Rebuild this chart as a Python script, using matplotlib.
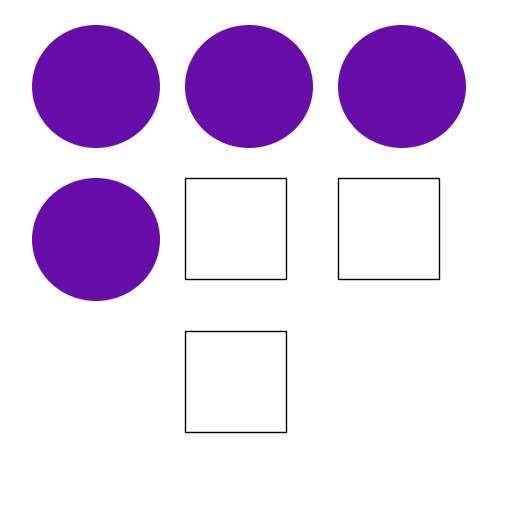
import matplotlib
matplotlib.use("Agg")
import matplotlib.pyplot as plt
from matplotlib.patches import Ellipse, Rectangle

# grid layout of the icon chart: row, column, kind
rows = [0, 0, 0, 1, 1, 1, 2]
cols = [0, 1, 2, 0, 1, 2, 1]
kinds = ["filled", "filled", "filled", "filled", "empty", "empty", "empty"]

fill_color = "#670EAA"
pitch = 153.0  # pixels per grid cell

fig = plt.figure(figsize=(5.12, 5.12), dpi=100)
ax = fig.add_axes([0, 0, 1, 1])
ax.set_xlim(-32 / pitch, (512 - 32) / pitch)
ax.set_ylim((512 - 25) / pitch, -25 / pitch)
ax.axis("off")

for r, c, k in zip(rows, cols, kinds):
    if k == "filled":
        w = 128 / pitch
        h = 123 / pitch
        ax.add_patch(Ellipse((c + w / 2, r + h / 2), w, h,
                             facecolor=fill_color, edgecolor="none"))
    else:
        s = 101 / pitch
        ax.add_patch(Rectangle((c, r), s, s, facecolor="white",
                               edgecolor="black", linewidth=1))

fig.savefig("out.png", dpi=100, facecolor="white")
